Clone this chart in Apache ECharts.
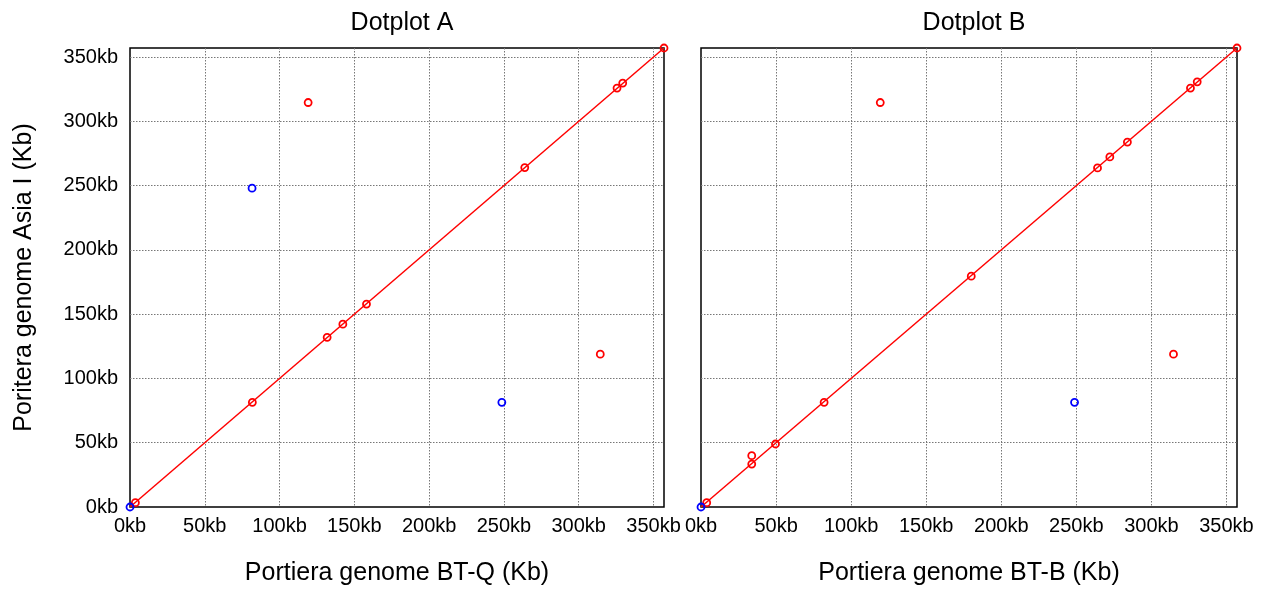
<!DOCTYPE html>
<html>
<head>
<meta charset="utf-8">
<script src="https://cdn.jsdelivr.net/npm/echarts@6/dist/echarts.min.js"></script>
<style>html,body{margin:0;padding:0;background:#fff}#c{width:1269px;height:594px}</style>
</head>
<body>
<div id="c"></div>
<script>
// ---- data (kb) ----
const genomeLen = 357;
const tickStep = 50;
const titles = ['Dotplot A', 'Dotplot B'];
const xNames = ['Portiera genome BT-Q (Kb)', 'Portiera genome BT-B (Kb)'];
const yName = 'Poritera genome Asia I (Kb)';

// Dotplot A
const redAx = [3.6, 81.8, 131.8, 142.3, 158.1, 263.9, 325.6, 329.4, 357, 119.1, 314.4];
const redAy = [3.4, 81.4, 132.0, 142.2, 157.8, 264.0, 325.8, 329.7, 357, 314.6, 118.9];
const blueAx = [0, 81.6, 248.6];
const blueAy = [0, 248.0, 81.4];

// Dotplot B
const redBx = [3.8, 33.8, 33.8, 49.6, 82.0, 180.0, 264.1, 272.3, 284.0, 326.0, 330.5, 357, 119.4, 314.7];
const redBy = [3.4, 33.4, 39.9, 49.0, 81.4, 179.5, 263.7, 272.3, 283.8, 325.8, 330.7, 357, 314.6, 118.9];
const blueBx = [0, 248.8];
const blueBy = [0, 81.4];

// diagonal (collinear) line
const diagX = [0, genomeLen];
const diagY = [0, genomeLen];

// ---- chart ----
const FONT = "'Liberation Sans', Arial, Helvetica, sans-serif";
const zip = (a, b) => a.map((v, i) => [v, b[i]]);
const fmt = v => (v % tickStep === 0 ? v + 'kb' : '');

const grids = [
  {left: 130, top: 48, width: 534, height: 459},
  {left: 701, top: 48, width: 536, height: 459}
].map(g => Object.assign(g, {show: true, borderColor: '#000', borderWidth: 1.5, backgroundColor: 'transparent', containLabel: false}));

function xAxis(i) {
  return {
    type: 'value', gridIndex: i, min: 0, max: genomeLen, interval: tickStep,
    name: xNames[i], nameLocation: 'middle', nameGap: 54,
    nameTextStyle: {fontFamily: FONT, fontSize: 25, color: '#000'},
    axisLine: {show: false}, axisTick: {show: false},
    axisLabel: {formatter: fmt, showMaxLabel: false, fontFamily: FONT, fontSize: 20, color: '#000', margin: 9},
    splitLine: {show: true, showMinLine: false, showMaxLine: false, lineStyle: {color: '#777', type: [1.5, 1.5], width: 1}}
  };
}
function yAxis(i) {
  return {
    type: 'value', gridIndex: i, min: 0, max: genomeLen, interval: tickStep,
    name: i === 0 ? yName : '', nameLocation: 'middle', nameGap: 93,
    nameTextStyle: {fontFamily: FONT, fontSize: 25, color: '#000'},
    axisLine: {show: false}, axisTick: {show: false},
    axisLabel: {show: i === 0, formatter: fmt, showMaxLabel: false, fontFamily: FONT, fontSize: 20, color: '#000', margin: 12},
    splitLine: {show: true, showMinLine: false, showMaxLine: false, lineStyle: {color: '#777', type: [1.5, 1.5], width: 1}}
  };
}

function pts(i, x, y, color) {
  return {
    type: 'scatter', xAxisIndex: i, yAxisIndex: i, data: zip(x, y),
    symbol: 'circle', symbolSize: 7, z: 5,
    itemStyle: {color: 'rgba(255,255,255,0)', borderColor: color, borderWidth: 1.8, opacity: 1},
    emphasis: {disabled: true}, silent: true
  };
}
function diag(i) {
  return {
    type: 'line', xAxisIndex: i, yAxisIndex: i, data: zip(diagX, diagY),
    symbol: 'none', lineStyle: {color: '#ff0000', width: 1.5}, z: 3, silent: true, animation: false
  };
}

const chart = echarts.init(document.getElementById('c'), null, {renderer: 'canvas'});
chart.setOption({
  animation: false,
  backgroundColor: '#fff',
  title: [
    {text: titles[0], left: 397, top: 6, textAlign: 'center', textStyle: {fontFamily: FONT, fontSize: 25, fontWeight: 'normal', color: '#000'}},
    {text: titles[1], left: 969, top: 6, textAlign: 'center', textStyle: {fontFamily: FONT, fontSize: 25, fontWeight: 'normal', color: '#000'}}
  ],
  grid: grids,
  xAxis: [xAxis(0), xAxis(1)],
  yAxis: [yAxis(0), yAxis(1)],
  series: [
    diag(0), pts(0, redAx, redAy, '#ff0000'), pts(0, blueAx, blueAy, '#0000ff'),
    diag(1), pts(1, redBx, redBy, '#ff0000'), pts(1, blueBx, blueBy, '#0000ff')
  ]
});
</script>
</body>
</html>
